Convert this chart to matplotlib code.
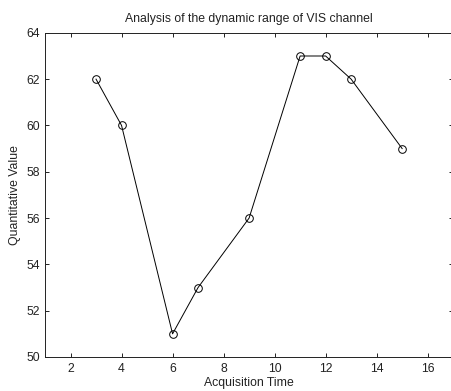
import matplotlib.pyplot as plt

plt.rcParams['font.family'] = ['Liberation Sans', 'DejaVu Sans']

acq_time = [3, 4, 6, 7, 9, 11, 12, 13, 15]
quant_value = [62, 60, 51, 53, 56, 63, 63, 62, 59]

fig = plt.figure(figsize=(4.52, 3.91), dpi=100)
ax = fig.add_axes([0.0996, 0.087, 0.903, 0.829])

ax.plot(acq_time, quant_value, color='black', linewidth=0.7,
        marker='o', markersize=5.5, markerfacecolor='none',
        markeredgecolor='black', markeredgewidth=0.7)

ax.set_xlim(1, 17)
ax.set_ylim(50, 64)
ax.set_xticks(range(2, 17, 2))
ax.set_yticks(range(50, 65, 2))
ax.tick_params(direction='in', top=True, right=True, labelsize=8.8,
               length=3, width=0.7, colors='#222222')
ax.tick_params(axis='x', pad=4)
for s in ax.spines.values():
    s.set_linewidth(0.7)
    s.set_color('#222222')

ax.set_title("Analysis of the dynamic range of VIS channel", fontsize=8.8,
             pad=8, color='#222222')
ax.set_xlabel("Acquisition Time", fontsize=8.8, labelpad=2, color='#222222')
ax.set_ylabel("Quantitative Value", fontsize=8.8, labelpad=4, color='#222222')

fig.savefig("out.png", dpi=100)
